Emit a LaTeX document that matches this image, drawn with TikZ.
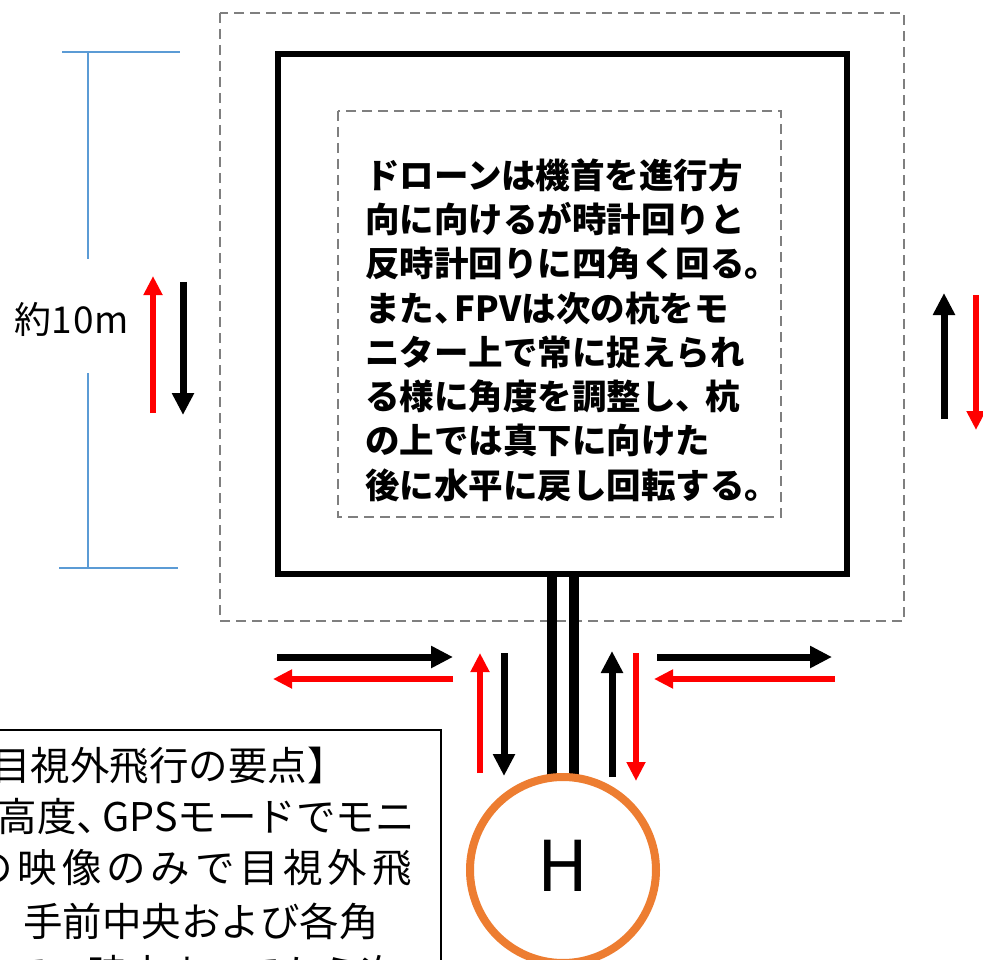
\documentclass[tikz,border=0pt]{standalone}
\usepackage{fontspec}
\newfontfamily\jp{Noto Sans CJK JP}
\usetikzlibrary{arrows.meta}
\definecolor{dgray}{HTML}{7F7F7F}
\definecolor{dimblue}{HTML}{5B9BD5}
\definecolor{hporange}{HTML}{ED7D31}
\definecolor{arrred}{HTML}{FF0000}
\begin{document}
\begin{tikzpicture}[x=1pt,y=-1pt,
  blkarrow/.style={line width=7pt,-{Triangle[width=21pt,length=22pt]}},
  redarrow/.style={arrred,line width=6pt,-{Triangle[width=18pt,length=19pt]}},
  graydash/.style={dgray,line width=2.2pt,dash pattern=on 10pt off 6pt},
  dimline/.style={dimblue,line width=1.4pt},
  stem/.style={line width=10pt},
  lefttext/.style={anchor=east,inner sep=0pt,font=\jp\fontsize{39.5}{47}\selectfont}]
\useasboundingbox (0,0) rectangle (983,960);
\clip (0,0) rectangle (983,960);

% outer dashed frame, square course, inner dashed frame
\draw[graydash] (220,13) rectangle (904,621);
\draw[line width=5.5pt] (278,54) rectangle (847,574);
\draw[graydash] (338,111) rectangle (781,517);

% centre text
\node (desc) [anchor=west,inner sep=0pt,align=left,
  font=\jp\bfseries\fontsize{34.5}{44.3}\selectfont] at (365,330)
  {ドローンは機首を進行方\\向に向けるが時計回りと\\反時計回りに四角く回る。\\また、\kern-0.4em FPVは次の杭をモ\\ニター上で常に捉えられ\\る様に角度を調整し、\kern-0.15em 杭\\の上では真下に向けた\\後に水平に戻し回転する。};

% stems to heliport
\coordinate (s1a) at (552,574);  \coordinate (s1b) at (552,800);
\coordinate (s2a) at (573.6,574); \coordinate (s2b) at (573.6,800);
\draw[stem] (s1a) -- (s1b);
\draw[stem] (s2a) -- (s2b);
\node (heli) [circle,draw=hporange,line width=8pt,fill=white,
  minimum size=186pt,inner sep=0pt] at (563,870) {};
\node (hlabel) [font=\jp\fontsize{70}{70}\selectfont,inner sep=0pt] at (563,866) {H};

% dimension
\coordinate (d1) at (88,52);  \coordinate (d2) at (88,259);
\coordinate (d3) at (88,373); \coordinate (d4) at (88,568);
\coordinate (t1a) at (62,52);  \coordinate (t1b) at (180,52);
\coordinate (t2a) at (59,568); \coordinate (t2b) at (178,568);
\draw[dimline] (d1) -- (d2);
\draw[dimline] (d3) -- (d4);
\draw[dimline] (t1a) -- (t1b);
\draw[dimline] (t2a) -- (t2b);
\node (dimtext) [font=\jp\fontsize{37}{37}\selectfont,inner sep=0pt] at (72,319) {約1\kern1pt 0\kern1pt m};

% left arrows
\coordinate (a1s) at (153,413); \coordinate (a1e) at (153,276);
\coordinate (a2s) at (183,282); \coordinate (a2e) at (183,415);
\draw[redarrow] (a1s) -- (a1e);
\draw[blkarrow] (a2s) -- (a2e);
% right arrows
\coordinate (a3s) at (944,419); \coordinate (a3e) at (944,293);
\coordinate (a4s) at (976,295); \coordinate (a4e) at (976,430);
\draw[blkarrow] (a3s) -- (a3e);
\draw[redarrow] (a4s) -- (a4e);
% bottom horizontal arrows
\coordinate (b1s) at (277,657); \coordinate (b1e) at (453,657);
\coordinate (b2s) at (453,679); \coordinate (b2e) at (273,679);
\coordinate (b3s) at (657,657); \coordinate (b3e) at (832,657);
\coordinate (b4s) at (835,679); \coordinate (b4e) at (654,679);
\draw[blkarrow] (b1s) -- (b1e);
\draw[redarrow] (b2s) -- (b2e);
\draw[blkarrow] (b3s) -- (b3e);
\draw[redarrow] (b4s) -- (b4e);
% vertical arrows by the stems
\coordinate (c1s) at (480,773); \coordinate (c1e) at (480,653);
\coordinate (c2s) at (504,653); \coordinate (c2e) at (504,776);
\coordinate (c3s) at (612,777); \coordinate (c3e) at (612,651);
\coordinate (c4s) at (636,653); \coordinate (c4e) at (636,781);
\draw[redarrow] (c1s) -- (c1e);
\draw[blkarrow] (c2s) -- (c2e);
\draw[blkarrow] (c3s) -- (c3e);
\draw[redarrow] (c4s) -- (c4e);

% info box (cut by the page edge)
\draw[line width=2pt,fill=white] (-20,730) rectangle (441,1010);
\node (l1) [lefttext] at (347,766) {【目視外飛行の要点】};
\node (l2) [lefttext] at (415,817) {一定の高度、\kern-0.35em GPSモードでモニ};
\node (l3) [lefttext] at (412,868) {タ\kern4.8pt ー\kern4.8pt の\kern4.8pt 映\kern4.8pt 像\kern4.8pt の\kern4.8pt み\kern4.8pt で\kern4.8pt 目\kern4.8pt 視\kern4.8pt 外\kern4.8pt 飛};
\node (l4) [lefttext] at (379,921) {行。手前中央および各角};
\node (l5) [lefttext] at (400,974) {杭の上で一時止まってから次};
\end{tikzpicture}
\end{document}
